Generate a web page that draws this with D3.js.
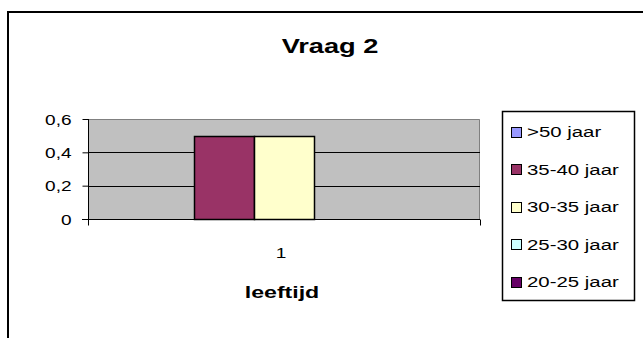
<!DOCTYPE html>
<html>
<head>
<meta charset="utf-8">
<script src="https://cdn.jsdelivr.net/npm/d3@7"></script>
<style>
  body { margin: 0; background: #fff; }
  svg { display: block; font-family: "Liberation Sans", Arial, sans-serif; }
</style>
</head>
<body>
<svg id="chart"></svg>
<script>
// data
const categories = ["1"];
const seriesNames = [">50 jaar", "35-40 jaar", "30-35 jaar", "25-30 jaar", "20-25 jaar"];
const seriesValues = [[0], [0.5], [0.5], [0], [0]];
const seriesColors = ["#9999ff", "#993366", "#ffffcc", "#ccffff", "#660066"];
const yTicks = [0, 0.2, 0.4, 0.6];
const title = "Vraag 2";
const xTitle = "leeftijd";

const width = 643;
const height = 338;
// the old excel text is wider than arial, so stretch it sideways
const stretch = 1.36;

const svg = d3.select("#chart").attr("width", width).attr("height", height);

// outer chart border (runs off the right and bottom)
svg.append("rect")
    .attr("x", 8).attr("y", 12)
    .attr("width", 700).attr("height", 400)
    .attr("fill", "none").attr("stroke", "#000").attr("stroke-width", 2);

const plot = { left: 88, right: 480, top: 119, bottom: 219 };

const x = d3.scaleBand()
    .domain(categories)
    .range([plot.left, plot.right]);

// excel gap width 150% -> outer padding of 0.75 bar on each side
const xs = d3.scaleBand()
    .domain(seriesNames)
    .range([0, x.bandwidth()])
    .paddingInner(0)
    .paddingOuter(0.75);

const y = d3.scaleLinear()
    .domain([0, 0.6])
    .range([plot.bottom, plot.top]);

const fmt = d3.formatLocale({ decimal: ",", thousands: ".", grouping: [3], currency: ["", ""] }).format("~g");

// plot area
svg.append("rect")
    .attr("x", plot.left).attr("y", plot.top)
    .attr("width", plot.right - plot.left).attr("height", plot.bottom - plot.top)
    .attr("fill", "#c0c0c0");
svg.append("path")
    .attr("d", `M${plot.left},${plot.top + 0.5}H${plot.right - 0.5}V${plot.bottom}`)
    .attr("fill", "none").attr("stroke", "#808080");

// gridlines
svg.append("g")
    .selectAll("line")
    .data(yTicks.filter(t => t > 0 && t < 0.6))
    .join("line")
    .attr("x1", plot.left).attr("x2", plot.right)
    .attr("y1", d => Math.round(y(d)) + 0.5).attr("y2", d => Math.round(y(d)) + 0.5)
    .attr("stroke", "#000");

// bars
svg.append("g")
    .selectAll("g")
    .data(seriesNames.map((name, i) => ({ name, color: seriesColors[i], values: seriesValues[i] })))
    .join("g")
    .attr("fill", d => d.color)
    .selectAll("rect")
    .data(d => d.values.map((v, j) => ({ name: d.name, cat: categories[j], v })).filter(e => e.v > 0))
    .join("rect")
    .attr("x", d => Math.round(x(d.cat) + xs(d.name)) + 0.5)
    .attr("y", d => Math.round(y(d.v)) + 0.5)
    .attr("width", Math.round(xs.bandwidth()))
    .attr("height", d => Math.round(y(0) - y(d.v)))
    .attr("stroke", "#000")
    .attr("stroke-width", 1.5);

// y axis
const yAxis = svg.append("g")
    .attr("transform", `translate(${plot.left + 0.5},0)`)
    .call(d3.axisLeft(y).tickValues(yTicks).tickFormat(fmt).tickSize(6).tickSizeOuter(0));
yAxis.select(".domain").remove();
yAxis.append("line")
    .attr("y1", plot.top).attr("y2", plot.bottom + 6)
    .attr("stroke", "#000");
yAxis.selectAll(".tick line").attr("stroke", "#000");
yAxis.selectAll(".tick text")
    .attr("x", -17 / stretch)
    .attr("dy", "0.36em")
    .attr("transform", `scale(${stretch},1)`)
    .attr("font-size", 14)
    .attr("font-family", "Liberation Sans, Arial, sans-serif")
    .attr("fill", "#000");

// x axis
const xAxis = svg.append("g")
    .attr("transform", `translate(0,${plot.bottom + 0.5})`);
xAxis.append("line")
    .attr("x1", plot.left - 6).attr("x2", plot.right)
    .attr("stroke", "#000");
xAxis.selectAll("line.tk")
    .data([plot.left, plot.right])
    .join("line")
    .attr("class", "tk")
    .attr("x1", d => d + 0.5).attr("x2", d => d + 0.5)
    .attr("y1", 0).attr("y2", 6)
    .attr("stroke", "#000");

function stretchedText(px, py, str, size, weight, anchor) {
    return svg.append("text")
        .attr("transform", `translate(${px},${py}) scale(${stretch},1)`)
        .attr("text-anchor", anchor)
        .attr("font-size", size)
        .attr("font-weight", weight)
        .attr("fill", "#000")
        .text(str);
}

categories.forEach(c => stretchedText(x(c) + x.bandwidth() / 2 - 3, 258, c, 14, "normal", "middle"));
stretchedText(x(categories[0]) + x.bandwidth() / 2 - 2, 298, xTitle, 17, "bold", "middle");
stretchedText(330, 53, title, 20, "bold", "middle");

// legend
const legend = svg.append("g");
legend.append("rect")
    .attr("x", 502.5).attr("y", 111.5)
    .attr("width", 132).attr("height", 189)
    .attr("fill", "#fff").attr("stroke", "#000").attr("stroke-width", 1.5);

const rowY = d3.scalePoint()
    .domain(seriesNames)
    .range([131.5, 281.5]);

seriesNames.forEach((name, i) => {
    const cy = rowY(name);
    legend.append("rect")
        .attr("x", 511.5).attr("y", Math.round(cy - 5) + 0.5)
        .attr("width", 10).attr("height", 10)
        .attr("fill", seriesColors[i]).attr("stroke", "#000");
    legend.append("text")
        .attr("transform", `translate(527,${cy + 5.5}) scale(${stretch},1)`)
        .attr("font-size", 15)
        .attr("fill", "#000")
        .text(name);
});
</script>
</body>
</html>
